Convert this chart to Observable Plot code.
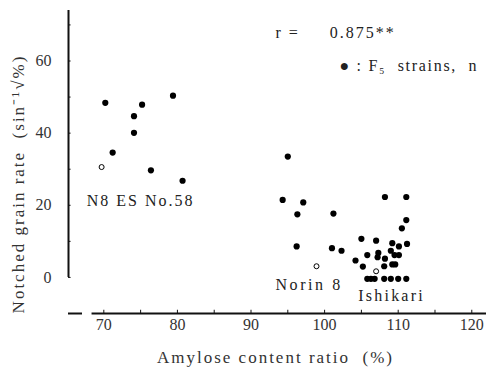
<!DOCTYPE html>
<html><head><meta charset="utf-8">
<script src="https://cdn.jsdelivr.net/npm/d3@7"></script>
<script src="https://cdn.jsdelivr.net/npm/@observablehq/plot@0.6"></script>
<style>body{margin:0;background:#fff}</style>
</head><body><div id="chart"></div>
<script>
// F5 strains (filled dots)
const f5Amylose = [70.2,79.4,75.2,74.1,74.1,71.2,76.4,80.7,
  95.0,94.3,97.1,96.3,101.2,96.2,101.0,102.3,
  108.2,111.1,111.1,110.5,105.0,107.0,109.2,111.2,110.1,109.0,107.3,105.8,109.5,110.1,107.2,108.2,104.2,105.2,108.1,109.2,109.6,
  105.8,106.3,106.8,108.1,109.0,110.0,111.1];
const f5Notched = [48.4,50.4,47.9,44.7,40.1,34.6,29.7,26.8,
  33.5,21.5,20.8,17.5,17.7,8.6,8.1,7.4,
  22.3,22.3,15.9,13.6,10.7,10.2,9.5,9.3,8.6,7.4,6.8,6.2,6.2,6.2,5.6,5.2,4.7,3.0,3.1,3.6,3.6,
  -0.4,-0.4,-0.4,-0.4,-0.4,-0.4,-0.4];
// parents (open circles)
const parentNames = ["N8 ES No.58","Norin 8","Ishikari"];
const parentAmylose = [69.7,98.9,107.0];
const parentNotched = [30.6,3.1,1.7];
const labelX = [75.0,97.9,109.1];
const labelY = [21.3,-2.2,-5.0];
// axes
const yTickLabels = [0,20,40,60];
const yTickMarks = [0,10,20,30,40,50,60,70];
const xTickLabels = [70,80,90,100,110,120];
const xTickMarks = [70,75,80,85,90,95,100,105,110,115,120];
const xAxisSegments = [[65.2,67.1],[68.4,122]];

const nb = "\u00a0";
const xTitle = "Amylose content ratio" + nb + nb + "(%)";
const yTitle = "Notched grain rate" + nb + nb + "(sin⁻¹√%)";
const rNote = "r =" + nb + nb + nb + nb + nb + "0.875**";
const legendNote = "● : F₅" + nb + " strains," + nb + nb + "n";

const f5 = f5Amylose.map((a,i)=>({a, n:f5Notched[i]}));
const parents = parentNames.map((name,i)=>({name, a:parentAmylose[i], n:parentNotched[i], lx:labelX[i], ly:labelY[i]}));

const ink = "#111";
const plot = Plot.plot({
  width:486, height:371, marginLeft:68, marginRight:0, marginTop:10, marginBottom:58,
  x:{domain:[65.2,122], axis:null}, y:{domain:[-10,74], axis:null},
  style:{fontFamily:"'Liberation Serif', serif", fontSize:"15px", color:ink, background:"#fff", overflow:"visible"},
  marks:[
    Plot.ruleX([65.2], {y1:0, y2:74, strokeWidth:2, stroke:ink}),
    Plot.ruleY(yTickMarks, {y:d=>d, x1:65.2, x2:65.55, stroke:ink}),
    Plot.text(yTickLabels, {x:65.2, y:d=>d, dx:-17, textAnchor:"end", fill:"#333", fontSize:16}),
    Plot.ruleY(xAxisSegments, {y:-10, x1:d=>d[0], x2:d=>d[1], strokeWidth:2, stroke:ink}),
    Plot.ruleX(xTickMarks, {x:d=>d, y1:-10, y2:-9.1, stroke:ink}),
    Plot.text(xTickLabels, {x:d=>d, y:-10, dy:11, lineAnchor:"middle", fill:"#333", fontSize:16}),
    Plot.dot(f5, {x:"a", y:"n", r:3.1, fill:"#000", stroke:null}),
    Plot.dot(parents, {x:"a", y:"n", r:2.5, fill:"#fff", stroke:"#000", strokeWidth:1}),
    Plot.text(parents, {x:"lx", y:"ly", text:"name", fontSize:16, fill:"#222"}),
    Plot.text([xTitle], {frameAnchor:"bottom", dy:44, dx:-2, lineAnchor:"middle", fontSize:17, fill:"#333"}),
    Plot.text([yTitle], {frameAnchor:"left", dx:-50, dy:22, rotate:-90, textAnchor:"middle", lineAnchor:"middle", fontSize:17, fill:"#333"}),
    Plot.text([rNote], {frameAnchor:"top-left", dx:207, dy:22, textAnchor:"start", lineAnchor:"middle", fontSize:16, fill:"#222"}),
    Plot.text([legendNote], {frameAnchor:"top-left", dx:271, dy:55, textAnchor:"start", lineAnchor:"middle", fontSize:16, fill:"#222"})
  ]
});
const spacing = new Map([[xTitle,"2px"],[yTitle,"2px"],[rNote,"2px"],[legendNote,"1.7px"],
  ["N8 ES No.58","2px"],["Norin 8","2.6px"],["Ishikari","2.2px"]]);
d3.select(plot).selectAll("text").each(function(){
  const s = spacing.get(this.textContent);
  if (s) this.style.letterSpacing = s;
});
document.getElementById("chart").append(plot);
</script></body></html>
